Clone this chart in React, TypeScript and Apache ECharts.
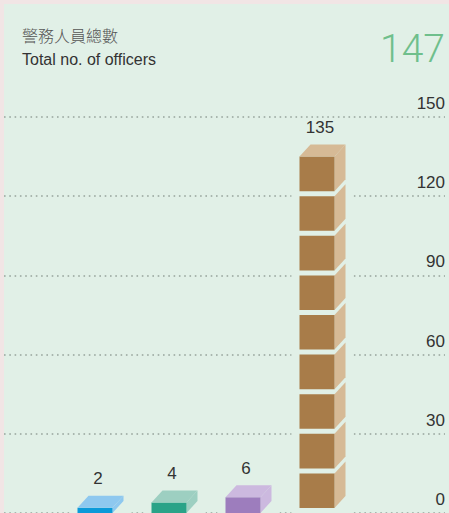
import React, { useEffect, useRef } from "react";
import * as echarts from "echarts";

// ---- data ----
const categories = ["Rank A", "Rank B", "Rank C", "Rank D"];
const officerCounts = [2, 4, 6, 135];
const yMin = 0;
const yMax = 150;
const yInterval = 30;
const titleZh = "警務人員總數";
const titleEn = "Total no. of officers";
const totalOfficers = 147;

// ---- styles ----
const PINK = "#f1e5e5";
const MINT = "#e1f0e7";
const FRONT = ["#0b9ad9", "#2aa388", "#9d7dbd", "#a87c49"];
const LIGHT = ["#8ec8ef", "#9dcfc1", "#ccb9df", "#d6ba96"];
const BAR_W = 35;
const DX = 11;
const DY = 12;
const SEG_UNIT = 15;
const SEG_GAP = 5;
const SEGMENTED = [false, false, false, true];
const SANS = '"Liberation Sans", Arial, sans-serif';

export default function App() {
  const ref = useRef<HTMLDivElement>(null);
  useEffect(() => {
    if (!ref.current) return;
    const chart = echarts.init(ref.current, undefined, { renderer: "svg" });

    const renderItem = (params: any, api: any) => {
      const i = api.value(0) as number;
      const v = api.value(1) as number;
      const [cx, yv] = api.coord([i, v]);
      const y0 = api.coord([i, 0])[1];
      const xl = cx - BAR_W / 2;
      const xr = cx + BAR_W / 2;
      const children: any[] = [];
      children.push({
        type: "rect",
        shape: { x: xl - 8, y: yv - DY - 8, width: BAR_W + DX + 16, height: y0 - yv + DY + 8 },
        style: { fill: MINT },
      });
      const segs = SEGMENTED[i] ? Math.ceil(v / SEG_UNIT) : 1;
      for (let k = 0; k < segs; k++) {
        const botVal = segs === 1 ? 0 : k * SEG_UNIT;
        const topVal = segs === 1 ? v : Math.min((k + 1) * SEG_UNIT, v);
        const yt = api.coord([i, topVal])[1];
        const yb = api.coord([i, botVal])[1] - (segs === 1 ? 0 : SEG_GAP);
        children.push({
          type: "polygon",
          shape: { points: [[xr, yt], [xr + DX, yt - DY], [xr + DX, yb - DY], [xr, yb]] },
          style: { fill: LIGHT[i] },
        });
        children.push({
          type: "rect",
          shape: { x: xl, y: yt, width: BAR_W, height: yb - yt },
          style: { fill: FRONT[i] },
        });
        if (k === segs - 1) {
          children.push({
            type: "polygon",
            shape: { points: [[xl, yt], [xl + DX, yt - DY], [xr + DX, yt - DY], [xr, yt]] },
            style: { fill: LIGHT[i] },
          });
        }
      }
      children.push({
        type: "text",
        style: {
          text: String(v),
          x: cx + 3,
          y: yv - DY - 17,
          align: "center",
          verticalAlign: "middle",
          fontSize: 17,
          fontFamily: SANS,
          fill: "#333",
        },
      });
      return { type: "group", children };
    };

    chart.setOption({
      animation: false,
      backgroundColor: "transparent",
      grid: [
        { left: 4, right: 4, top: 117, height: 399 },
        { left: 58, width: 296, top: 117, height: 399 },
      ],
      xAxis: [
        { gridIndex: 0, type: "value", min: 0, max: 1, show: false },
        { gridIndex: 1, type: "category", data: categories, show: false },
      ],
      yAxis: [
        {
          gridIndex: 0,
          type: "value",
          min: yMin,
          max: yMax,
          interval: yInterval,
          position: "right",
          axisLine: { show: false },
          axisTick: { show: false },
          axisLabel: {
            inside: true,
            margin: 0,
            verticalAlign: "bottom",
            padding: [0, 0, 5, 0],
            fontSize: 17,
            fontFamily: SANS,
            color: "#333",
          },
          splitLine: { lineStyle: { type: [1.6, 3.7], color: "#96a39c", width: 1.5 } },
        },
        { gridIndex: 1, type: "value", min: yMin, max: yMax, show: false },
      ],
      series: [
        {
          type: "custom",
          xAxisIndex: 1,
          yAxisIndex: 1,
          renderItem,
          data: officerCounts.map((v, i) => [i, v]),
          z: 5,
        },
      ],
      graphic: [
        {
          type: "text",
          x: 22,
          y: 35,
          style: {
            text: titleZh,
            fontSize: 16,
            fontWeight: 300,
            fontFamily: '"Noto Sans CJK TC", sans-serif',
            fill: "#555",
            align: "left",
            verticalAlign: "middle",
          },
        },
        {
          type: "text",
          x: 22,
          y: 59,
          style: {
            text: titleEn,
            fontSize: 16,
            fontFamily: SANS,
            fill: "#333",
            align: "left",
            verticalAlign: "middle",
          },
        },
        {
          type: "text",
          x: 445,
          y: 49,
          style: {
            text: String(totalOfficers),
            fontSize: 39,
            fontWeight: 300,
            fontFamily: "Roboto, sans-serif",
            fill: "#6fbf8c",
            align: "right",
            verticalAlign: "middle",
          },
        },
      ],
    });
    return () => chart.dispose();
  }, []);

  return (
    <div style={{ position: "absolute", left: 0, top: 0, width: 449, height: 513, background: PINK, overflow: "hidden" }}>
      <div style={{ position: "absolute", left: 4, top: 4, width: 445, height: 509, background: MINT }} />
      <div ref={ref} style={{ position: "absolute", left: 0, top: 0, width: 449, height: 513 }} />
    </div>
  );
}
